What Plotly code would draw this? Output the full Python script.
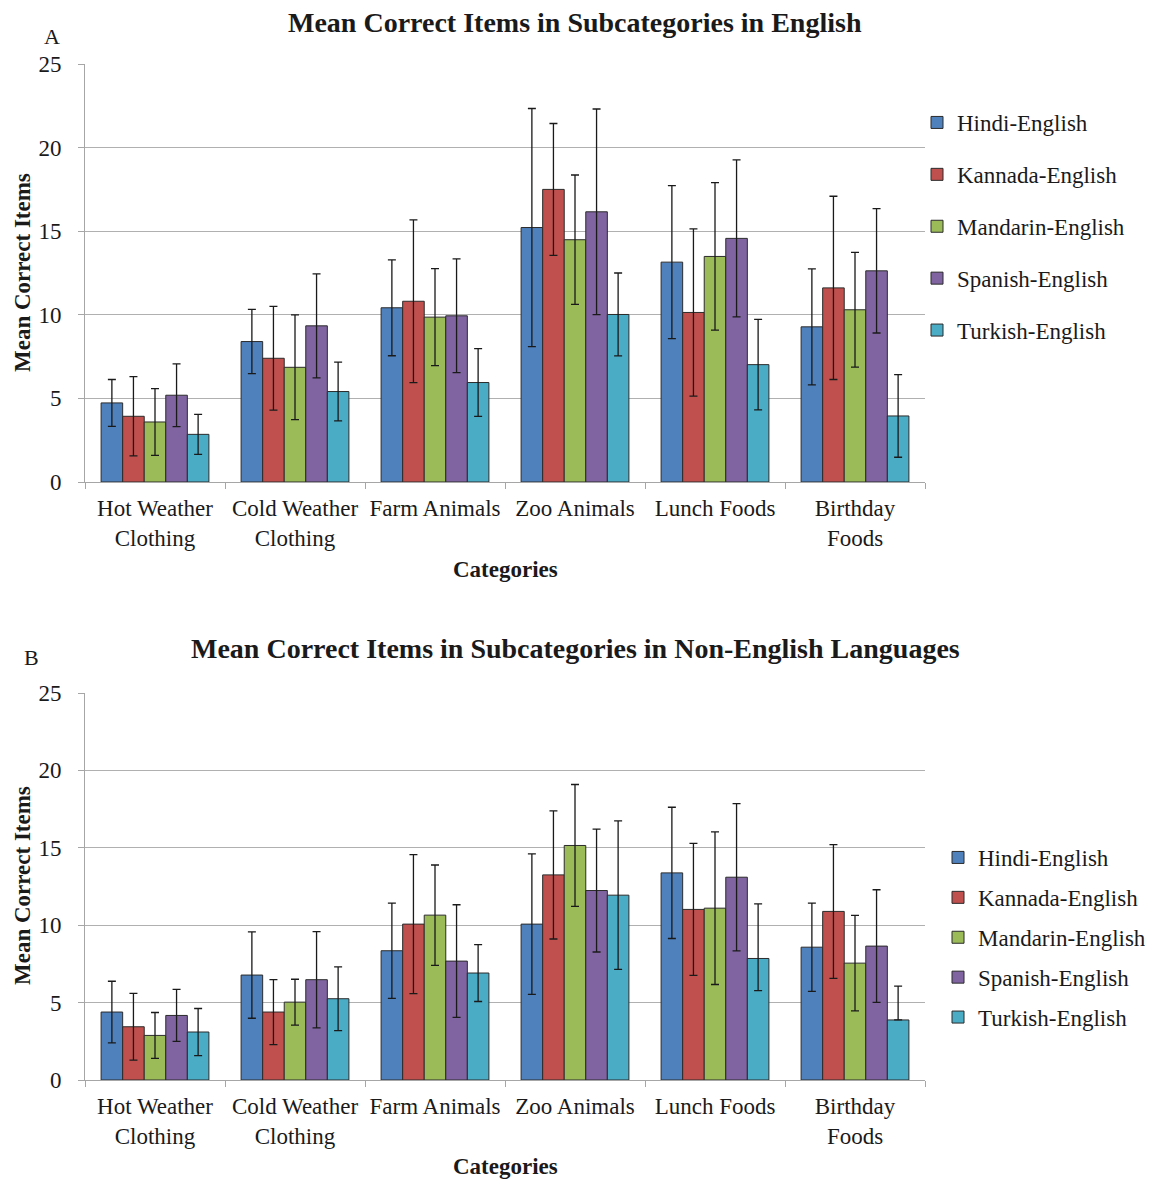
import plotly.graph_objects as go

categories = ["Hot Weather<br>Clothing", "Cold Weather<br>Clothing", "Farm Animals",
              "Zoo Animals", "Lunch Foods", "Birthday<br>Foods"]
groups = ["Hindi-English", "Kannada-English", "Mandarin-English", "Spanish-English", "Turkish-English"]
colors = ["#4F81BD", "#C0504D", "#9BBB59", "#8064A2", "#4BACC6"]

# Panel A: English
A_means = [
    [4.73, 8.40, 10.42, 15.22, 13.15, 9.28],
    [3.93, 7.40, 10.81, 17.50, 10.14, 11.61],
    [3.59, 6.86, 9.86, 14.49, 13.49, 10.30],
    [5.19, 9.34, 9.94, 16.16, 14.57, 12.63],
    [2.85, 5.41, 5.95, 10.02, 7.02, 3.95],
]
A_err = [
    [1.40, 1.92, 2.87, 7.12, 4.58, 3.47],
    [2.37, 3.10, 4.87, 3.94, 5.00, 5.48],
    [2.00, 3.13, 2.90, 3.87, 4.41, 3.43],
    [1.88, 3.11, 3.40, 6.15, 4.69, 3.72],
    [1.20, 1.76, 2.03, 2.48, 2.71, 2.47],
]

# Panel B: Non-English languages
B_means = [
    [4.39, 6.78, 8.35, 10.07, 13.38, 8.58],
    [3.44, 4.39, 10.07, 13.25, 11.02, 10.89],
    [2.88, 5.03, 10.65, 15.15, 11.10, 7.55],
    [4.17, 6.48, 7.68, 12.24, 13.10, 8.65],
    [3.10, 5.25, 6.91, 11.94, 7.85, 3.88],
]
B_err_plus = [
    [1.99, 2.79, 3.08, 4.54, 4.24, 2.85],
    [2.15, 2.10, 4.49, 4.14, 4.26, 4.32],
    [1.48, 1.48, 3.24, 3.94, 4.93, 3.08],
    [1.68, 3.11, 3.64, 3.97, 4.76, 3.64],
    [1.52, 2.06, 1.84, 4.80, 3.53, 2.19],
]
B_err_minus = [
    [1.99, 2.79, 3.08, 4.54, 4.24, 2.85],
    [2.15, 2.10, 4.49, 4.14, 4.26, 4.32],
    [1.48, 1.48, 3.24, 3.94, 4.93, 3.08],
    [1.68, 3.11, 3.64, 3.97, 4.76, 3.64],
    [1.52, 2.06, 1.84, 4.80, 2.08, 0.00],
]

titleA = "Mean Correct Items in Subcategories in English"
titleB = "Mean Correct Items in Subcategories in Non-English Languages"

W, H = 1153, 1181
OFF = 8  # page body margin
FONT = "Liberation Serif, Times New Roman, serif"
TXT = "#1a1a1a"

def px_x(x):
    return (x - OFF) / W

def px_y(y):
    return 1 - (y - OFF) / H

fig = go.Figure()

for i, g in enumerate(groups):
    fig.add_trace(go.Bar(
        x=categories, y=A_means[i], name=g, legendgroup=g + "A",
        marker=dict(color=colors[i], line=dict(color="#2b2b2b", width=1)),
        error_y=dict(type="data", array=A_err[i], symmetric=True,
                     color="#1a1a1a", thickness=1.3, width=4),
        xaxis="x", yaxis="y", legend="legend",
    ))
for i, g in enumerate(groups):
    fig.add_trace(go.Bar(
        x=categories, y=B_means[i], name=g, legendgroup=g + "B",
        marker=dict(color=colors[i], line=dict(color="#2b2b2b", width=1)),
        error_y=dict(type="data", array=B_err_plus[i], arrayminus=B_err_minus[i],
                     symmetric=False, color="#1a1a1a", thickness=1.3, width=4),
        xaxis="x2", yaxis="y2", legend="legend2",
    ))

xdom = [px_x(85), px_x(925)]
axis_common_x = dict(
    domain=xdom, type="category", showline=True, linecolor="#a6a6a6", linewidth=1,
    ticks="outside", tickson="boundaries", ticklen=6, tickcolor="#a6a6a6", tickangle=0,
    ticklabelstandoff=5,
    tickfont=dict(family=FONT, size=23, color=TXT), showgrid=False, automargin=False,
)
axis_common_y = dict(
    range=[0, 25], dtick=5, showline=True, linecolor="#a6a6a6", linewidth=1,
    ticks="outside", ticklen=6, tickcolor="#a6a6a6", ticklabelstandoff=12,
    showgrid=True, gridcolor="#b0b0b0", gridwidth=1, automargin=False,
    tickfont=dict(family=FONT, size=23, color=TXT), zeroline=False,
)

fig.update_layout(
    width=W, height=H,
    margin=dict(l=0, r=0, t=0, b=0, autoexpand=False),
    paper_bgcolor="white", plot_bgcolor="white",
    barmode="group", bargap=0.23, bargroupgap=0,
    font=dict(family=FONT, color=TXT),
    xaxis=dict(axis_common_x, anchor="y"),
    yaxis=dict(axis_common_y, domain=[px_y(482), px_y(64)], anchor="x"),
    xaxis2=dict(axis_common_x, anchor="y2"),
    yaxis2=dict(axis_common_y, domain=[px_y(1080), px_y(693)], anchor="x2"),
    legend=dict(x=px_x(917), y=px_y(101), xanchor="left", yanchor="top",
                font=dict(family=FONT, size=23, color=TXT), tracegroupgap=19,
                bgcolor="rgba(0,0,0,0)"),
    legend2=dict(x=px_x(938), y=px_y(836), xanchor="left", yanchor="top",
                 font=dict(family=FONT, size=23, color=TXT), tracegroupgap=7,
                 bgcolor="rgba(0,0,0,0)"),
    showlegend=True,
)

ann = []
ann.append(dict(text="<b>" + titleA + "</b>", x=px_x(575), y=px_y(22), xref="paper", yref="paper",
                showarrow=False, font=dict(family=FONT, size=28, color=TXT), xanchor="center", yanchor="middle"))
ann.append(dict(text="<b>" + titleB + "</b>", x=px_x(575), y=px_y(648), xref="paper", yref="paper",
                showarrow=False, font=dict(family=FONT, size=28, color=TXT), xanchor="center", yanchor="middle"))
ann.append(dict(text="A", x=px_x(52), y=px_y(36), xref="paper", yref="paper", showarrow=False,
                font=dict(family=FONT, size=22, color=TXT), xanchor="center", yanchor="middle"))
ann.append(dict(text="B", x=px_x(31), y=px_y(657), xref="paper", yref="paper", showarrow=False,
                font=dict(family=FONT, size=22, color=TXT), xanchor="center", yanchor="middle"))
for yc in (569, 1166):
    ann.append(dict(text="<b>Categories</b>", x=px_x(505), y=px_y(yc), xref="paper", yref="paper",
                    showarrow=False, font=dict(family=FONT, size=23, color=TXT),
                    xanchor="center", yanchor="middle"))
for yc in (273, 886):
    ann.append(dict(text="<b>Mean Correct Items</b>", x=px_x(22), y=px_y(yc), xref="paper", yref="paper",
                    showarrow=False, textangle=-90, font=dict(family=FONT, size=23, color=TXT),
                    xanchor="center", yanchor="middle"))
fig.update_layout(annotations=ann)

fig.write_html("out.html")
